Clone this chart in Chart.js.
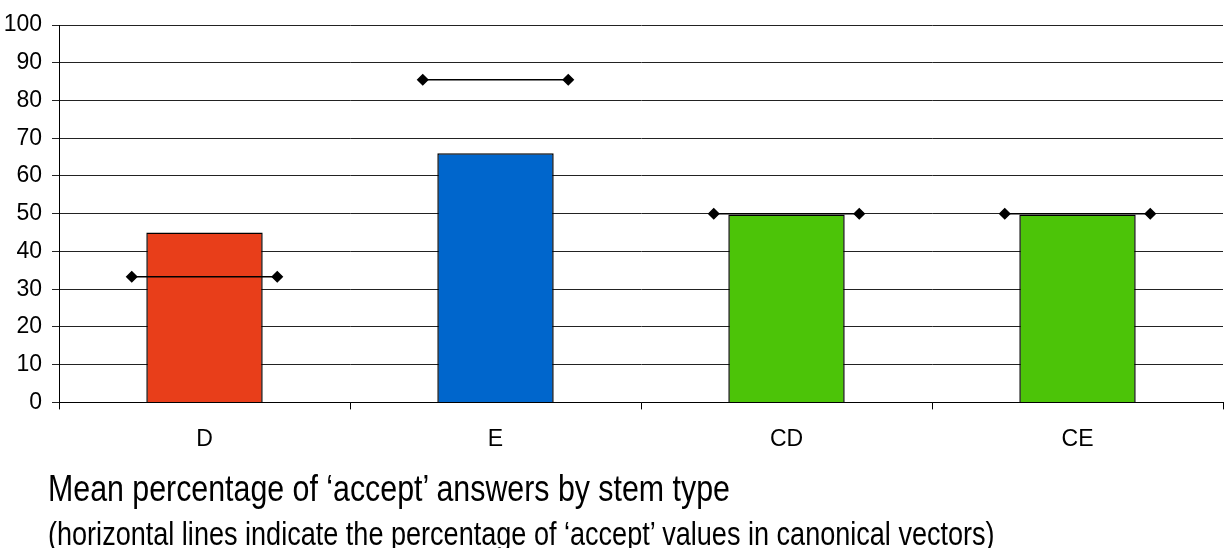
<!DOCTYPE html>
<html>
<head>
<meta charset="utf-8">
<script src="https://cdn.jsdelivr.net/npm/chart.js@4"></script>
<style>
  html, body { margin: 0; padding: 0; background: #fff; }
  #wrap { position: relative; width: 1224px; height: 548px; overflow: hidden; }
  canvas { position: absolute; left: 0; top: 0; }
  .caption { position: absolute; left: 48px; white-space: nowrap; color: #000;
             font-family: 'Liberation Sans', Arial, sans-serif; line-height: 1;
             transform: scaleX(0.82); transform-origin: 0 0; }
  #title { top: 470px; font-size: 37px; }
  #subtitle { top: 517px; font-size: 33px; }
</style>
</head>
<body>
<div id="wrap">
  <canvas id="chart" width="1224" height="548"></canvas>
  <div id="title" class="caption">Mean percentage of ‘accept’ answers by stem type</div>
  <div id="subtitle" class="caption">(horizontal lines indicate the percentage of ‘accept’ values in canonical vectors)</div>
</div>
<script>
const stemTypes = ['D', 'E', 'CD', 'CE'];
const meanAccept = [45, 66, 49.8, 49.8];
const canonicalAccept = [33.3, 85.5, 50, 50];
const barColors = ['#E83E1A', '#0066CC', '#4CC408', '#4CC408'];
const yTicks = [0, 10, 20, 30, 40, 50, 60, 70, 80, 90, 100];

const FONT = "'Liberation Sans', Arial, sans-serif";

// short horizontal segments centred on each category, broken by null gaps
const canonSegments = [];
canonicalAccept.forEach((v, i) => {
    canonSegments.push({ x: i - 0.25, y: v });
    canonSegments.push({ x: i + 0.25, y: v });
    canonSegments.push({ x: i + 0.5, y: null });
});

new Chart(document.getElementById('chart'), {
    type: 'bar',
    data: {
        labels: stemTypes,
        datasets: [
            {
                type: 'line',
                label: 'canonical',
                data: canonSegments,
                xAxisID: 'x2',
                borderColor: '#000',
                borderWidth: 1.5,
                pointStyle: 'rectRot',
                pointRadius: 5,
                pointBackgroundColor: '#000',
                pointBorderColor: '#000',
                spanGaps: false,
                order: 0
            },
            {
                label: 'mean',
                data: meanAccept,
                backgroundColor: barColors,
                borderColor: '#000',
                borderWidth: 1.5,
                barPercentage: 0.4,
                categoryPercentage: 1,
                grouped: false,
                order: 1
            }
        ]
    },
    options: {
        responsive: false,
        animation: false,
        layout: { autoPadding: false, padding: { top: 25, right: 1, bottom: 79, left: 0 } },
        plugins: {
            legend: { display: false },
            tooltip: { enabled: false }
        },
        scales: {
            x: {
                grid: { drawOnChartArea: false, drawTicks: true, tickLength: 7, color: '#000', offset: true },
                border: { color: '#000', width: 1 },
                ticks: { color: '#000', padding: 16, font: { family: FONT, size: 23 } }
            },
            x2: {
                type: 'linear',
                display: false,
                offset: false,
                min: -0.5,
                max: 3.5
            },
            y: {
                min: 0,
                max: 100,
                afterBuildTicks: (scale) => { scale.ticks = yTicks.map(v => ({ value: v })); },
                afterFit: (scale) => { scale.width = 59; },
                grid: { color: '#222', tickLength: 7, lineWidth: 1 },
                border: { color: '#000', width: 1 },
                ticks: { color: '#000', padding: 10, font: { family: FONT, size: 23 } }
            }
        }
    }
});
</script>
</body>
</html>
